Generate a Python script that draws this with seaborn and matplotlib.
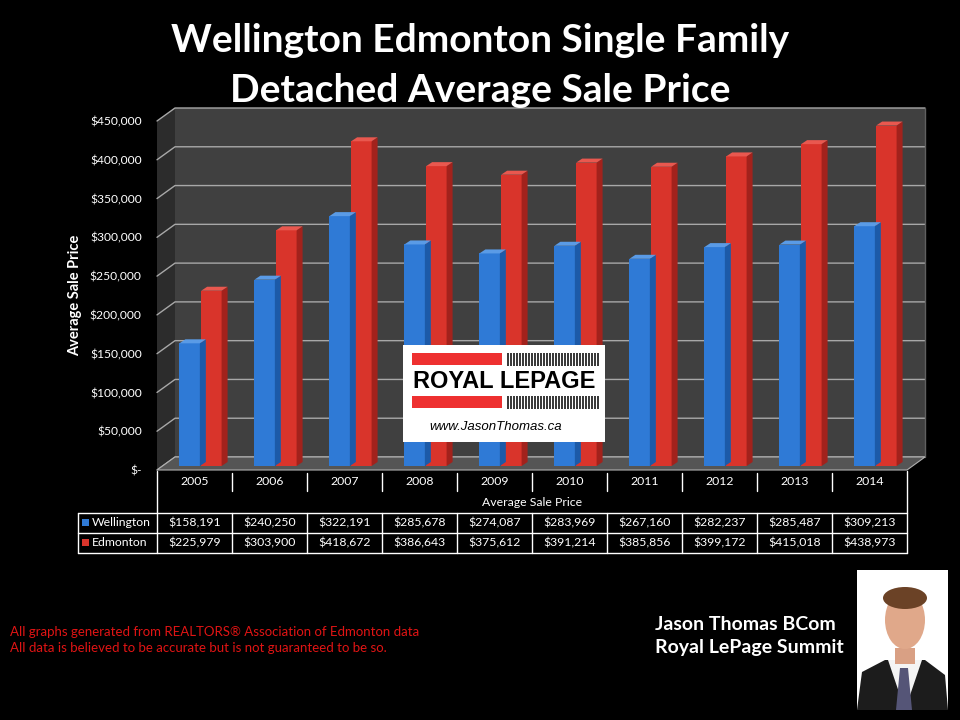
import numpy as np
import pandas as pd
import matplotlib
matplotlib.use("Agg")
import matplotlib.pyplot as plt
import matplotlib.ticker as mticker
import matplotlib.transforms as mtrans
from matplotlib.patches import Polygon, Rectangle, Ellipse
import seaborn as sns

# ── data ─────────────────────────────────────────────────────────────────────
years = ["2005", "2006", "2007", "2008", "2009",
         "2010", "2011", "2012", "2013", "2014"]
wellington = [158191, 240250, 322191, 285678, 274087,
              283969, 267160, 282237, 285487, 309213]
edmonton = [225979, 303900, 418672, 386643, 375612,
            391214, 385856, 399172, 415018, 438973]
areas = ["Wellington", "Edmonton"]
yticks = list(range(0, 450001, 50000))

BG = "black"
WALL = "#404040"
SIDE = "#2c2c2c"
FLOOR = "#555555"
GRID = "#a8a8a8"
BLUE, BLUE_SIDE, BLUE_TOP = "#2f7ad6", "#1c5aa8", "#5a9be6"
RED, RED_SIDE, RED_TOP = "#d9342b", "#a2221c", "#e9584f"
TXT = "white"

W, H = 960, 720
DX, DY = 18, 13      # depth of the back wall (pixels)
BX, BY = 6, 4        # bar shift / bar depth (pixels)


def fx(px): return px / W
def fy(py): return 1 - py / H


sns.set_theme(style="white")
plt.rcParams["font.family"] = ["Lato", "DejaVu Sans"]

fig = plt.figure(figsize=(9.6, 7.2), dpi=100, facecolor=BG)

# ── main chart ───────────────────────────────────────────────────────────────
ax = fig.add_axes([fx(157), fy(470), fx(907) - fx(157), fy(121) - fy(470)])
ax.set_facecolor("none")

df = pd.DataFrame({
    "year": years * 2,
    "price": wellington + edmonton,
    "area": [areas[0]] * len(years) + [areas[1]] * len(years),
})
sns.barplot(data=df, x="year", y="price", hue="area", ax=ax,
            palette=[BLUE, RED], saturation=1, width=0.58, gap=0.06,
            legend=False, zorder=3)
bars = list(ax.patches)
ax.set_xlim(-0.5, len(years) - 0.5)
ax.set_ylim(0, 450000)
x0, x1 = -0.5, len(years) - 0.5
ident = mtrans.IdentityTransform()


def disp(x, y, depth=0.0):
    p = ax.transData.transform((x, y))
    return (p[0] + depth * DX, p[1] + depth * DY)


# walls
ax.add_patch(Polygon([disp(x0, 0, 1), disp(x1, 0, 1), disp(x1, 450000, 1),
                      disp(x0, 450000, 1)], closed=True, fc=WALL, ec="none",
                     transform=ident, clip_on=False, zorder=0))
ax.add_patch(Polygon([disp(x0, 0, 0), disp(x0, 0, 1), disp(x0, 450000, 1),
                      disp(x0, 450000, 0)], closed=True, fc=SIDE, ec="none",
                     transform=ident, clip_on=False, zorder=0))
for v in yticks:
    xs, ys = zip(disp(x0, v, 0), disp(x0, v, 1), disp(x1, v, 1))
    ax.add_line(plt.Line2D(xs, ys, color=GRID, lw=1, transform=ident,
                           clip_on=False, zorder=1))
ax.add_line(plt.Line2D(*zip(disp(x1, 0, 1), disp(x1, 450000, 1)), color="#606060",
                       lw=1, transform=ident, clip_on=False, zorder=1))
ax.add_patch(Polygon([disp(x0, 0, 0), disp(x1, 0, 0), disp(x1, 0, 1),
                      disp(x0, 0, 1)], closed=True, fc=FLOOR, ec="#b0b0b0",
                     lw=0.8, transform=ident, clip_on=False, zorder=2))

# 3D faces on bars
shift = mtrans.ScaledTranslation(BX / 100, BY / 100, fig.dpi_scale_trans)
n = len(years)
for i, bar in enumerate(bars):
    side_c, top_c = (BLUE_SIDE, BLUE_TOP) if i < n else (RED_SIDE, RED_TOP)
    bx, bw, bh = bar.get_x(), bar.get_width(), bar.get_height()
    bar.set_transform(ax.transData + shift)
    bar.set_clip_on(False)
    bar.set_edgecolor("none")
    (ax_l, ay_b), (ax_r, ay_t) = disp(bx, 0), disp(bx + bw, bh)
    ax_l, ax_r, ay_b, ay_t = ax_l + BX, ax_r + BX, ay_b + BY, ay_t + BY
    ax.add_patch(Polygon([(ax_r, ay_b), (ax_r, ay_t), (ax_r + BX, ay_t + BY),
                          (ax_r + BX, ay_b + BY)], fc=side_c, ec="none",
                         transform=ident, clip_on=False, zorder=3))
    ax.add_patch(Polygon([(ax_l, ay_t), (ax_r, ay_t), (ax_r + BX, ay_t + BY),
                          (ax_l + BX, ay_t + BY)], fc=top_c, ec="none",
                         transform=ident, clip_on=False, zorder=3))

ax.set_yticks(yticks)
ax.yaxis.set_major_formatter(mticker.FuncFormatter(
    lambda v, _: "$-" if v == 0 else f"${v:,.0f}"))
ax.tick_params(axis="y", colors=TXT, labelsize=8.7, length=0, pad=11)
ax.set_xticks([])
ax.set_xlabel("")
ax.set_ylabel("Average Sale Price", color=TXT, fontsize=10.5, fontweight="bold")
ax.yaxis.set_label_coords(-0.1, 0.5)
for sp in ax.spines.values():
    sp.set_visible(False)

# ── data table ───────────────────────────────────────────────────────────────
tab = fig.add_axes([fx(157), fy(555), fx(907) - fx(157), fy(470) - fy(555)])
tab.set_xlim(x0, x1)
tab.set_ylim(555, 470)
tab.axis("off")
TFS = 8.8


def xd(px): return x0 + (px - 157) / 75


def tline(xs, ys):
    tab.add_line(plt.Line2D(xs, ys, color="white", lw=1, clip_on=False))


tline([x0, x0], [471, 553])
tline([x1, x1], [471, 553])
for k in range(n - 1):
    tline([k + 0.5, k + 0.5], [473, 491])
    tline([k + 0.5, k + 0.5], [513, 553])
for yy in (513, 533, 553):
    tline([xd(78), x1], [yy, yy])
tline([xd(78), xd(78)], [513, 553])

for k, yr in enumerate(years):
    tab.text(k, 482, yr, color=TXT, fontsize=TFS, ha="center", va="center")
tab.text((x0 + x1) / 2, 503, "Average Sale Price", color=TXT, fontsize=TFS,
         ha="center", va="center")
for name, vals, col, yy in [(areas[0], wellington, BLUE, 522.5),
                            (areas[1], edmonton, RED, 543)]:
    tab.add_patch(Rectangle((xd(82), yy - 3.5), 7 / 75, 7, fc=col, ec="none",
                            clip_on=False))
    tab.text(xd(92), yy, name, color=TXT, fontsize=TFS, ha="left", va="center")
    for k, v in enumerate(vals):
        tab.text(k, yy, f"${v:,.0f}", color=TXT, fontsize=TFS,
                 ha="center", va="center")

# ── logo ─────────────────────────────────────────────────────────────────────
lg = fig.add_axes([fx(403), fy(442), fx(605) - fx(403), fy(345) - fy(442)])
lg.set_xlim(403, 605)
lg.set_ylim(442, 345)
lg.set_facecolor("white")
lg.set_xticks([]); lg.set_yticks([])
for sp in lg.spines.values():
    sp.set_visible(False)
for top in (353, 396):
    lg.add_patch(Rectangle((412, top), 90, 12, fc="#ee3030", ec="none"))
    lg.vlines(np.arange(508, 599, 3), top, top + 13, color="black", lw=1.1)
lg.text(504, 382, "ROYAL LEPAGE", fontsize=17, fontweight="bold",
        family="Liberation Sans", color="black", ha="center", va="center")
lg.text(496, 427, "www.JasonThomas.ca", fontsize=9.5, style="italic",
        family="Liberation Sans", color="black", ha="center", va="center")

# ── photo placeholder ────────────────────────────────────────────────────────
ph = fig.add_axes([fx(857), fy(710), fx(948) - fx(857), fy(570) - fy(710)])
ph.set_xlim(857, 948)
ph.set_ylim(710, 570)
ph.set_facecolor("white")
ph.set_xticks([]); ph.set_yticks([])
for sp in ph.spines.values():
    sp.set_visible(False)
ph.add_patch(Polygon([(857, 710), (862, 672), (885, 660), (925, 660),
                      (945, 675), (948, 710)], fc="#1c1c1c", ec="none"))
ph.add_patch(Polygon([(888, 660), (922, 660), (905, 710)], fc="#f4f4f4", ec="none"))
ph.add_patch(Polygon([(900, 668), (908, 668), (912, 710), (896, 710)],
                     fc="#555577", ec="none"))
ph.add_patch(Rectangle((895, 648), 20, 16, fc="#d9a084", ec="none"))
ph.add_patch(Ellipse((905, 620), 40, 58, fc="#e0a88a", ec="none"))
ph.add_patch(Ellipse((905, 598), 44, 22, fc="#6b4226", ec="none"))

# ── texts ────────────────────────────────────────────────────────────────────
fig.text(0.5, fy(40), "Wellington Edmonton Single Family", color=TXT,
         fontsize=28, fontweight="bold", ha="center", va="center")
fig.text(0.5, fy(90), "Detached Average Sale Price", color=TXT,
         fontsize=28, fontweight="bold", ha="center", va="center")
fig.text(fx(10), fy(632), "All graphs generated from REALTORS\u00ae Association of Edmonton data",
         color="#e01414", fontsize=9.5, ha="left", va="center")
fig.text(fx(10), fy(648), "All data is believed to be accurate but is not guaranteed to be so.",
         color="#e01414", fontsize=9.5, ha="left", va="center")
fig.text(fx(655), fy(625), "Jason Thomas BCom", color=TXT, fontsize=14,
         fontweight="bold", ha="left", va="center")
fig.text(fx(655), fy(648), "Royal LePage Summit", color=TXT, fontsize=14,
         fontweight="bold", ha="left", va="center")

fig.savefig("out.png", dpi=100, facecolor=BG)
